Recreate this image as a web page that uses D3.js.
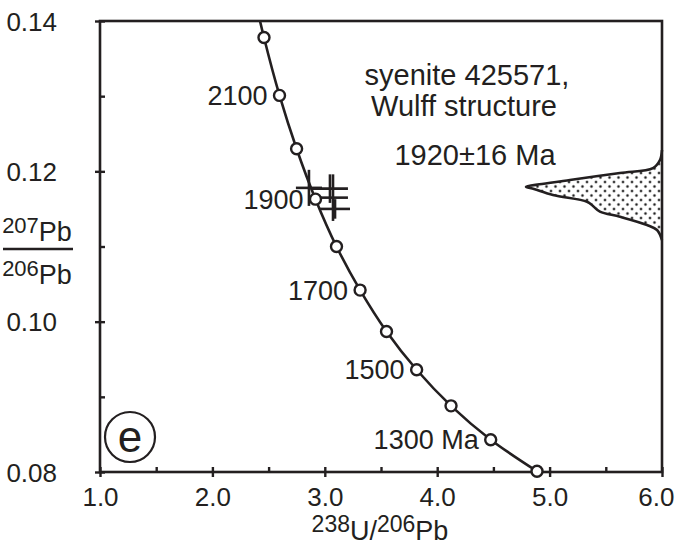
<!DOCTYPE html>
<html>
<head>
<meta charset="utf-8">
<script src="https://cdn.jsdelivr.net/npm/d3@7"></script>
<style>
  html, body { margin: 0; padding: 0; background: #fff; }
  svg { display: block; font-family: "Liberation Sans", Arial, sans-serif; }
</style>
</head>
<body>
<svg id="chart" width="675" height="548"></svg>
<script>
// ---- Data ----
// Concordia reference points (age in Ma, 238U/206Pb, 207Pb/206Pb)
const concordiaAges = [1200, 1300, 1400, 1500, 1600, 1700, 1800, 1900, 2000, 2100, 2200, 2300];
const concordiaX    = [4.888, 4.476, 4.123, 3.817, 3.549, 3.314, 3.104, 2.917, 2.749, 2.597, 2.459, 2.332];
const concordiaY    = [0.0801, 0.0843, 0.0888, 0.0936, 0.0987, 0.1042, 0.1100, 0.1163, 0.1230, 0.1301, 0.1378, 0.1460];
const markerAges    = [1200, 1300, 1400, 1500, 1600, 1700, 1800, 1900, 2000, 2100, 2200];
const labelAges     = [1300, 1500, 1700, 1900, 2100];

// Zircon analyses: 238U/206Pb, 207Pb/206Pb with error half-widths
const analysisX  = [2.859, 3.046, 3.073, 3.091];
const analysisY  = [0.1178, 0.1177, 0.1165, 0.1150];
const analysisEX = [0.116, 0.160, 0.133, 0.133];
const analysisEY = [0.0024, 0.0019, 0.0031, 0.0013];

// Probability density (207Pb/206Pb vs. relative density, in x-axis units from right edge)
const densityY = [0.12284, 0.12151, 0.12044, 0.11978, 0.11885, 0.11831, 0.11795, 0.11765, 0.11685, 0.11596, 0.11539, 0.11463, 0.11396, 0.11286, 0.11219, 0.11086];
const densityW = [0, 0.018, 0.080, 0.374, 0.819, 1.068, 1.210, 1.139, 0.970, 0.667, 0.614, 0.552, 0.374, 0.133, 0.044, 0];

const xTicks = [1, 2, 3, 4, 5, 6];
const xMinorTicks = [1.5, 2.5, 3.5, 4.5, 5.5];
const yTicks = [0.08, 0.10, 0.12, 0.14];
const yMinorTicks = [0.09, 0.11, 0.13];

const titleLines = ["syenite 425571,", "Wulff structure"];
const ageText = "1920±16 Ma";
const panelLetter = "e";

// ---- Layout ----
const svg = d3.select("#chart");
const ink = "#231f20";
const x = d3.scaleLinear().domain([1, 6]).range([100, 662]);
const y = d3.scaleLinear().domain([0.08, 0.14]).range([472, 21]);

const defs = svg.append("defs");
defs.append("clipPath").attr("id", "plotClip")
  .append("rect").attr("x", x(1)).attr("y", y(0.14))
  .attr("width", x(6) - x(1)).attr("height", y(0.08) - y(0.14));
const pat = defs.append("pattern").attr("id", "stipple")
  .attr("patternUnits", "userSpaceOnUse").attr("width", 9).attr("height", 9);
pat.append("rect").attr("width", 9).attr("height", 9).attr("fill", "#fff");
[[2, 2], [6.5, 6.5]].forEach(([cx, cy]) => {
  pat.append("circle").attr("cx", cx).attr("cy", cy).attr("r", 1.7).attr("fill", "#aaa");
  pat.append("circle").attr("cx", cx).attr("cy", cy).attr("r", 1.0).attr("fill", "#222");
});

// Density area
const dens = densityY.map((v, i) => ({ y: v, w: densityW[i] }));
svg.append("path")
  .datum(dens)
  .attr("d", d3.area()
    .y(d => y(d.y))
    .x0(x(6))
    .x1(d => x(6 - d.w))
    .curve(d3.curveCatmullRom.alpha(0.5)))
  .attr("fill", "url(#stipple)")
  .attr("stroke", "none");
svg.append("path")
  .datum(dens)
  .attr("d", d3.line()
    .y(d => y(d.y))
    .x(d => x(6 - d.w))
    .curve(d3.curveCatmullRom.alpha(0.5)))
  .attr("fill", "none")
  .attr("stroke", ink)
  .attr("stroke-width", 2.6);

// Frame
svg.append("rect")
  .attr("x", x(1)).attr("y", y(0.14))
  .attr("width", x(6) - x(1)).attr("height", y(0.08) - y(0.14))
  .attr("fill", "none").attr("stroke", ink).attr("stroke-width", 2.6);

// Axes
function styleAxis(g) {
  g.select(".domain").remove();
  g.selectAll(".tick line").attr("stroke", ink).attr("stroke-width", 2.4);
  g.selectAll(".tick text").attr("fill", ink).attr("font-size", 26)
    .attr("font-family", "Liberation Sans, Arial, sans-serif");
}
const gx = svg.append("g").attr("transform", `translate(0,${y(0.08)})`)
  .call(d3.axisBottom(x).tickValues(xTicks).tickFormat(d3.format(".1f")).tickSize(5).tickPadding(11));
styleAxis(gx);
gx.selectAll(".tick line").attr("y1", -5);
// keep the last label inside the page
gx.selectAll(".tick text").filter(d => d === 6).attr("text-anchor", "end").attr("dx", 12);
const gxm = svg.append("g").attr("transform", `translate(0,${y(0.08)})`)
  .call(d3.axisBottom(x).tickValues(xMinorTicks).tickFormat("").tickSize(0));
gxm.select(".domain").remove();
gxm.selectAll(".tick line").attr("y1", -5).attr("y2", 1).attr("stroke", ink).attr("stroke-width", 2.4);

const gy = svg.append("g").attr("transform", `translate(${x(1)},0)`)
  .call(d3.axisLeft(y).tickValues(yTicks).tickFormat(d3.format(".2f")).tickSize(5).tickPadding(38));
styleAxis(gy);
gy.selectAll(".tick line").attr("x1", 5);
gy.selectAll(".tick text").attr("dy", "0.35em");
const gym = svg.append("g").attr("transform", `translate(${x(1)},0)`)
  .call(d3.axisLeft(y).tickValues(yMinorTicks).tickFormat("").tickSize(0));
gym.select(".domain").remove();
gym.selectAll(".tick line").attr("x1", 5).attr("x2", -1).attr("stroke", ink).attr("stroke-width", 2.4);

// Concordia curve
const conc = concordiaAges.map((a, i) => ({ age: a, x: concordiaX[i], y: concordiaY[i] }));
svg.append("path")
  .datum(conc)
  .attr("clip-path", "url(#plotClip)")
  .attr("d", d3.line().x(d => x(d.x)).y(d => y(d.y)).curve(d3.curveCatmullRom.alpha(0.5)))
  .attr("fill", "none").attr("stroke", ink).attr("stroke-width", 2.6);

// Error crosses
const gc = svg.append("g").attr("stroke", ink).attr("stroke-width", 2.6);
analysisX.forEach((vx, i) => {
  gc.append("line").attr("x1", x(vx - analysisEX[i])).attr("x2", x(vx + analysisEX[i]))
    .attr("y1", y(analysisY[i])).attr("y2", y(analysisY[i]));
  gc.append("line").attr("x1", x(vx)).attr("x2", x(vx))
    .attr("y1", y(analysisY[i] - analysisEY[i])).attr("y2", y(analysisY[i] + analysisEY[i]));
});

// Age markers
const markers = conc.filter(d => markerAges.includes(d.age));
svg.append("g").selectAll("circle").data(markers).join("circle")
  .attr("cx", d => x(d.x)).attr("cy", d => y(d.y)).attr("r", 5.5)
  .attr("fill", "#fff").attr("stroke", ink).attr("stroke-width", 2.4);

// Age labels
svg.append("g").selectAll("text").data(conc.filter(d => labelAges.includes(d.age))).join("text")
  .attr("x", d => x(d.x) - 12).attr("y", d => y(d.y)).attr("dy", "0.36em")
  .attr("text-anchor", "end").attr("font-size", 27).attr("fill", ink)
  .text(d => d.age === 1300 ? d.age + " Ma" : d.age);

// Annotation
svg.append("text").attr("x", 467).attr("y", 85).attr("text-anchor", "middle")
  .attr("font-size", 29).attr("fill", ink).text(titleLines[0]);
svg.append("text").attr("x", 464).attr("y", 116).attr("text-anchor", "middle")
  .attr("font-size", 29).attr("fill", ink).text(titleLines[1]);
svg.append("text").attr("x", 475).attr("y", 165).attr("text-anchor", "middle")
  .attr("font-size", 29).attr("fill", ink).text(ageText);

// Panel letter
svg.append("circle").attr("cx", 130).attr("cy", 437).attr("r", 25)
  .attr("fill", "none").attr("stroke", ink).attr("stroke-width", 2.2);
svg.append("text").attr("x", 130).attr("y", 437).attr("dy", "0.33em").attr("text-anchor", "middle")
  .attr("font-size", 44).attr("fill", ink).text(panelLetter);

// Y-axis title (fraction)
const yt = svg.append("g").attr("fill", ink);
const t1 = yt.append("text").attr("x", 37).attr("y", 241).attr("text-anchor", "middle");
t1.append("tspan").attr("font-size", 22).attr("dy", -8).text("207");
t1.append("tspan").attr("font-size", 27).attr("dy", 8).text("Pb");
yt.append("line").attr("x1", 3).attr("x2", 73).attr("y1", 249).attr("y2", 249)
  .attr("stroke", ink).attr("stroke-width", 2.4);
const t2 = yt.append("text").attr("x", 37).attr("y", 284).attr("text-anchor", "middle");
t2.append("tspan").attr("font-size", 22).attr("dy", -8).text("206");
t2.append("tspan").attr("font-size", 27).attr("dy", 8).text("Pb");

// X-axis title
const xt = svg.append("text").attr("x", 380).attr("y", 540).attr("text-anchor", "middle").attr("fill", ink);
xt.append("tspan").attr("font-size", 23).attr("dy", -8).text("238");
xt.append("tspan").attr("font-size", 27).attr("dy", 8).text("U/");
xt.append("tspan").attr("font-size", 23).attr("dy", -8).text("206");
xt.append("tspan").attr("font-size", 27).attr("dy", 8).text("Pb");
</script>
</body>
</html>
